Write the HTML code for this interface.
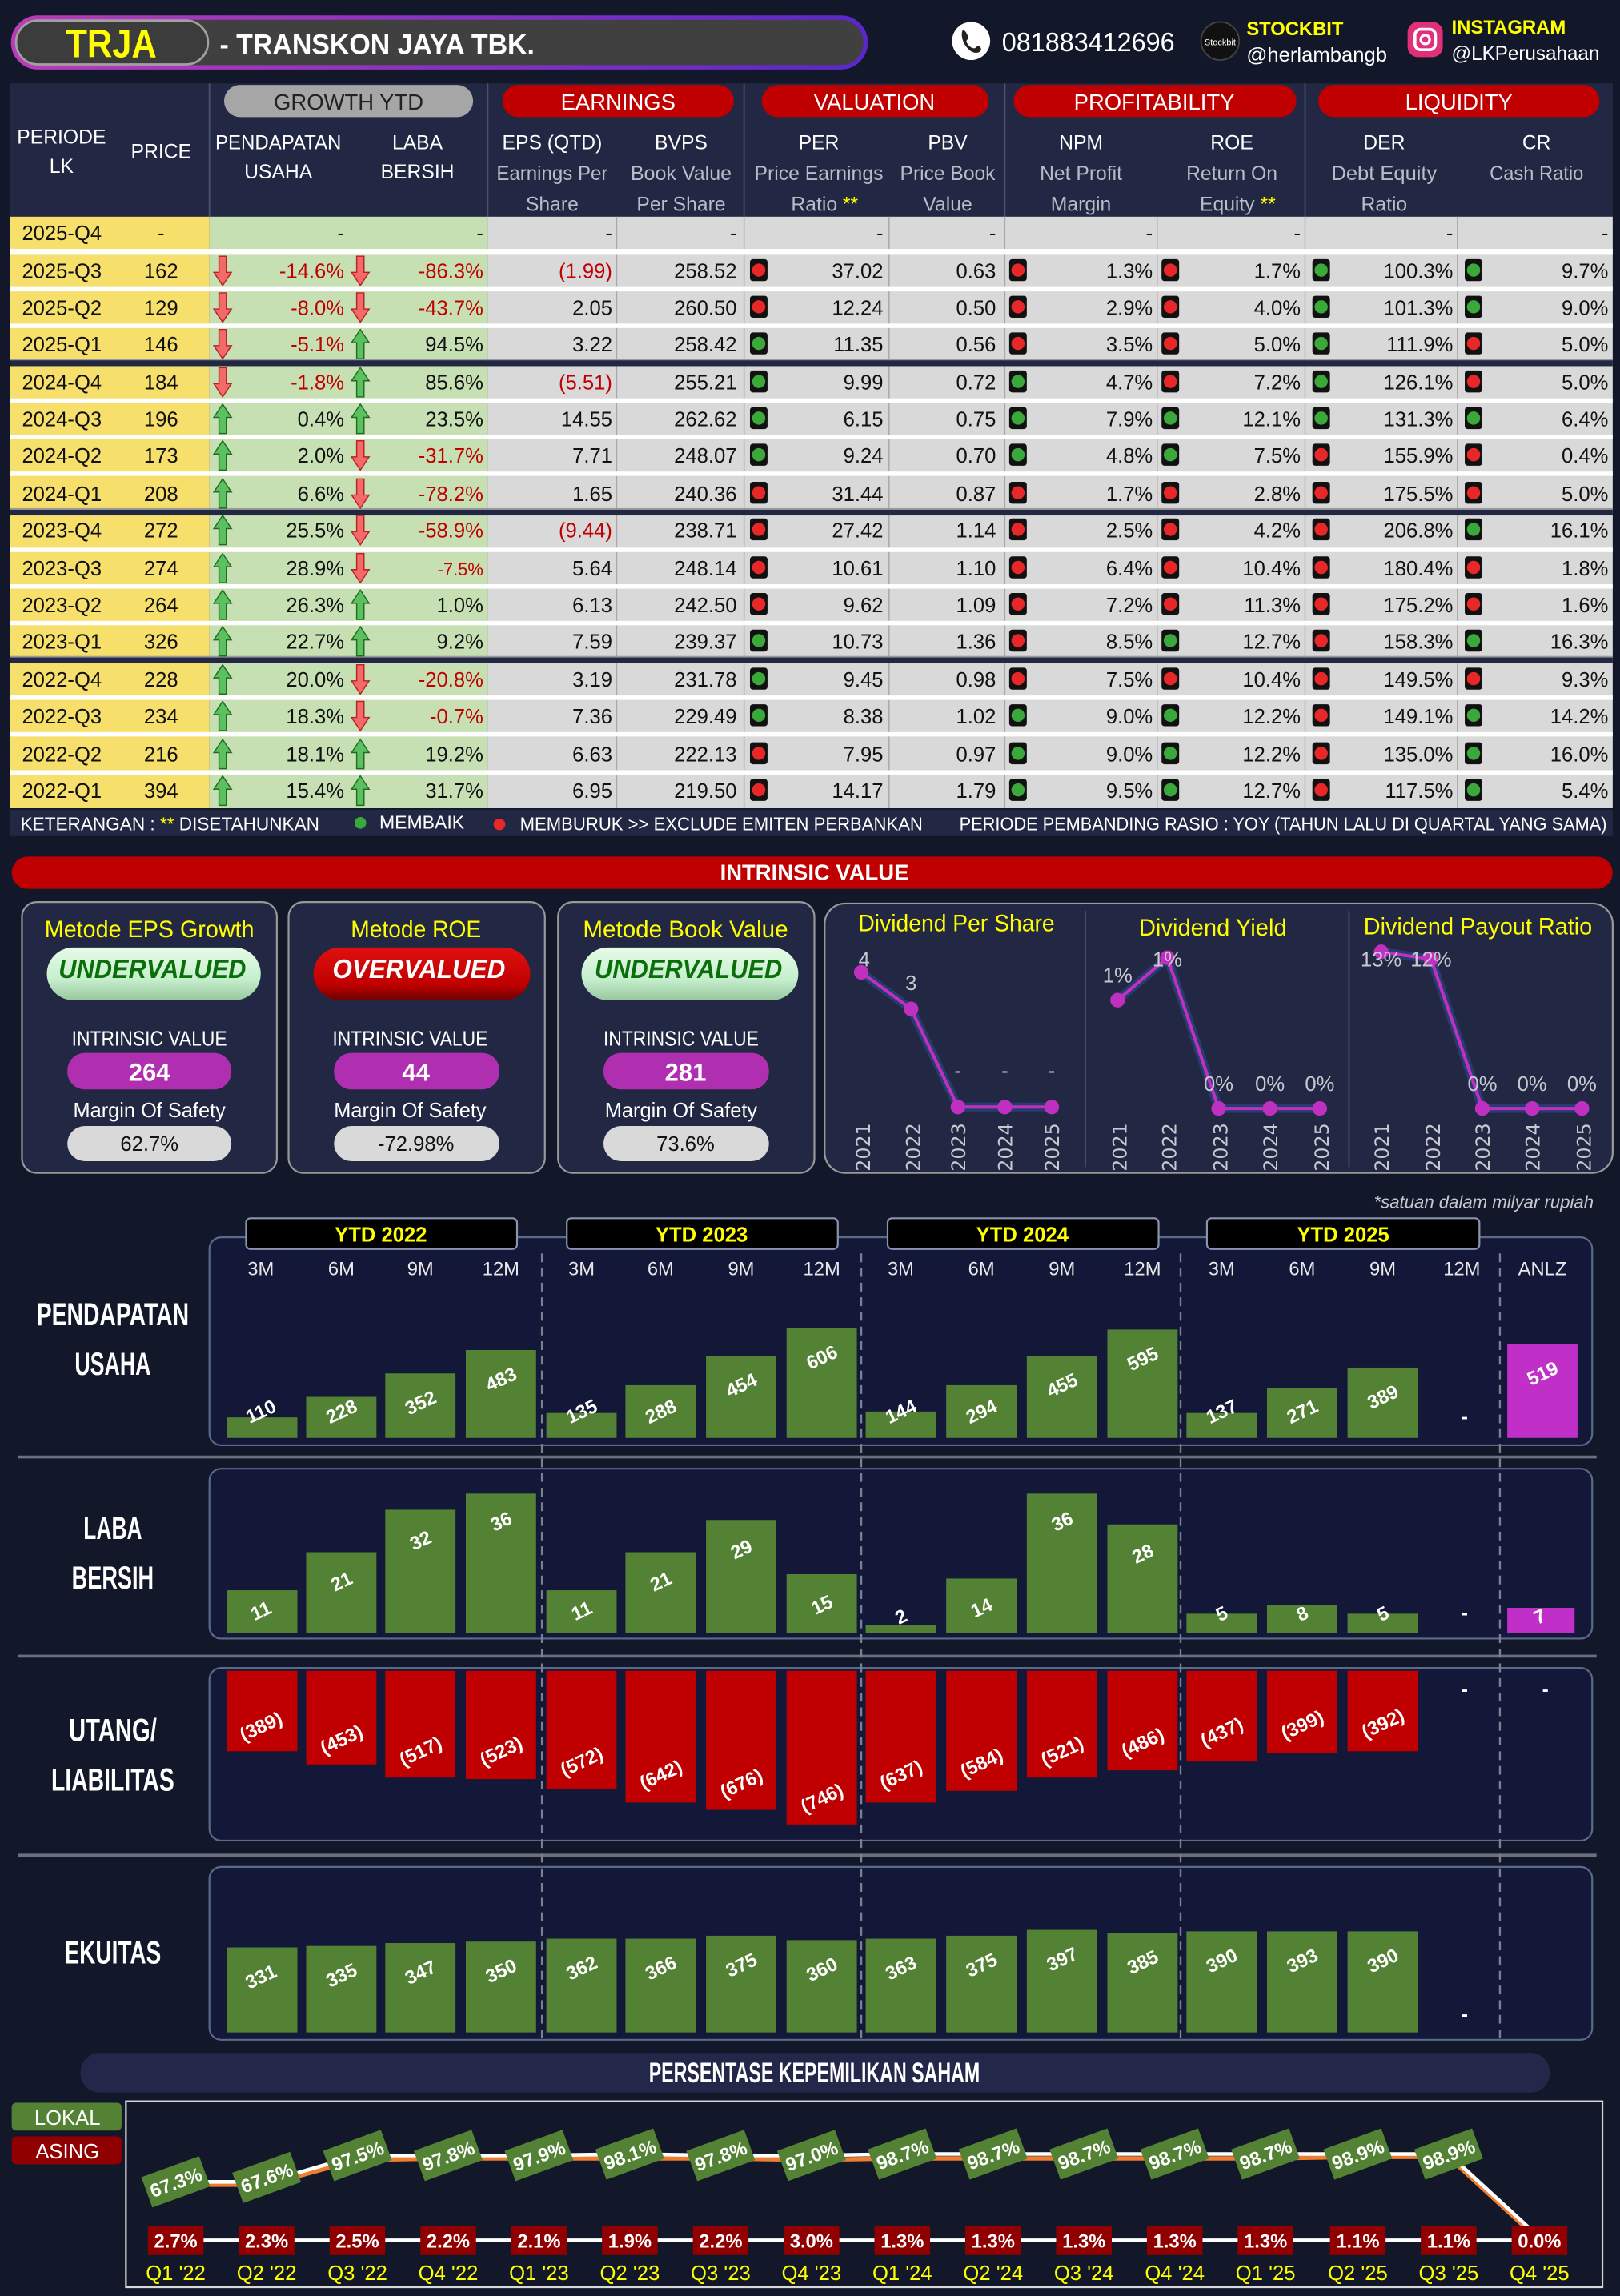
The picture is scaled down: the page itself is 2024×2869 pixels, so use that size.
<!DOCTYPE html>
<html><head><meta charset="utf-8"><style>
html,body{margin:0;padding:0;background:#121829;}
svg{display:block;}
text{font-family:"Liberation Sans Narrow","Liberation Sans",sans-serif;}
.tb text{font-size:14px;fill:#111;}
.m{text-anchor:middle}.r{text-anchor:end}
.n{fill:#c00000 !important}
.h{fill:#fff;font-size:13.5px;text-anchor:middle}
.hs{fill:#b8bcc8;font-size:13.5px;text-anchor:middle}
.bl{fill:#fff;font-size:13px;text-anchor:middle;font-weight:bold}
.cl{fill:#e8e8e8;font-size:13px;text-anchor:middle}
.lb{fill:#fff;font-size:22px;font-weight:bold;text-anchor:middle}
</style></head><body>
<svg width="2024" height="2869" viewBox="0 0 1106 1568" preserveAspectRatio="none" xmlns="http://www.w3.org/2000/svg">
<defs>
<g id="dn"><path d="M3.5 0h5v11h3.5l-6 9-6-9h3.5z" fill="#f26a6a" stroke="#b22" stroke-width=".8"/></g>
<g id="up"><path d="M3.5 20h5v-11h3.5l-6-9-6 9h3.5z" fill="#5cc060" stroke="#1e6e1e" stroke-width=".8"/></g>
<g id="rd"><rect width="12" height="15" rx="2" fill="#111"/><circle cx="6" cy="7.5" r="4.5" fill="#e82828"/></g>
<g id="gd"><rect width="12" height="15" rx="2" fill="#111"/><circle cx="6" cy="7.5" r="4.5" fill="#3aa83a"/></g>
<linearGradient id="pg" x1="0" x2="1"><stop offset="0" stop-color="#b83cb8"/><stop offset="1" stop-color="#5a28c8"/></linearGradient>
<linearGradient id="ug" x1="0" y1="0" x2="0" y2="1"><stop offset="0" stop-color="#e6fbe6"/><stop offset=".6" stop-color="#c6efce"/><stop offset="1" stop-color="#98c89e"/></linearGradient>
<linearGradient id="og" x1="0" y1="0" x2="0" y2="1"><stop offset="0" stop-color="#e01010"/><stop offset=".7" stop-color="#c00000"/><stop offset="1" stop-color="#700000"/></linearGradient>
</defs>
<rect width="1106" height="1568" fill="#121829"/>

<!-- HEADER -->
<rect x="9" y="12" width="582" height="34" rx="17" fill="#404040" stroke="url(#pg)" stroke-width="3"/>
<rect x="11" y="14" width="131" height="30" rx="15" fill="#3c3c3c" stroke="#a0a0a0" stroke-width="1.5"/>
<text x="76" y="39" class="m" style="font-size:27px;font-weight:bold;fill:#ffff00" textLength="62" lengthAdjust="spacingAndGlyphs">TRJA</text>
<text x="150" y="37" style="font-size:19px;font-weight:bold;fill:#fff" textLength="215" lengthAdjust="spacingAndGlyphs">-  TRANSKON JAYA TBK.</text>
<circle cx="663" cy="28" r="13" fill="#fff"/><path d="M657 21c2-1 3 2 4 4s-2 2-1 4 3 4 5 4 2-3 4-1 0 4-2 4c-5 1-12-8-10-15z" fill="#222"/>
<text x="684" y="35" style="font-size:18px;fill:#fff" textLength="118" lengthAdjust="spacingAndGlyphs">081883412696</text>
<circle cx="833" cy="28" r="13" fill="#111" stroke="#444"/><text x="833" y="31" class="m" style="font-size:6px;fill:#fff">Stockbit</text>
<text x="851" y="24" style="font-size:13px;font-weight:bold;fill:#ffff00">STOCKBIT</text>
<text x="851" y="42" style="font-size:13.5px;fill:#fff" textLength="96" lengthAdjust="spacingAndGlyphs">@herlambangb</text>
<rect x="961" y="15" width="24" height="24" rx="7" fill="#e0307a"/><rect x="966" y="20" width="14" height="14" rx="4" fill="none" stroke="#fff" stroke-width="2"/><circle cx="973" cy="27" r="3" fill="none" stroke="#fff" stroke-width="1.8"/>
<text x="991" y="23" style="font-size:13px;font-weight:bold;fill:#ffff00" textLength="78" lengthAdjust="spacingAndGlyphs">INSTAGRAM</text>
<text x="991" y="41" style="font-size:13.5px;fill:#fff" textLength="101" lengthAdjust="spacingAndGlyphs">@LKPerusahaan</text>

<!-- TABLE HEADER -->
<rect x="7" y="57" width="1094" height="91" fill="#222843"/>
<rect x="153" y="58" width="170" height="22" rx="11" fill="#a6a6a6"/><text x="238" y="75" class="m" style="font-size:15px;fill:#222">GROWTH YTD</text>
<rect x="343" y="58" width="158" height="22" rx="11" fill="#c00000"/><text x="422" y="75" class="m" style="font-size:15px;fill:#fff">EARNINGS</text>
<rect x="520" y="58" width="155" height="22" rx="11" fill="#c00000"/><text x="597" y="75" class="m" style="font-size:15px;fill:#fff">VALUATION</text>
<rect x="692" y="58" width="193" height="22" rx="11" fill="#c00000"/><text x="788" y="75" class="m" style="font-size:15px;fill:#fff">PROFITABILITY</text>
<rect x="900" y="58" width="192" height="22" rx="11" fill="#c00000"/><text x="996" y="75" class="m" style="font-size:15px;fill:#fff">LIQUIDITY</text>
<g stroke="#4a5070" stroke-width="1"><line x1="143" y1="57" x2="143" y2="148"/><line x1="333" y1="57" x2="333" y2="148"/><line x1="508" y1="57" x2="508" y2="148"/><line x1="686" y1="57" x2="686" y2="148"/><line x1="891" y1="57" x2="891" y2="148"/></g>
<text x="42" y="98" class="h">PERIODE</text><text x="42" y="118" class="h">LK</text>
<text x="110" y="108" class="h">PRICE</text>
<text x="190" y="102" class="h" textLength="86" lengthAdjust="spacingAndGlyphs">PENDAPATAN</text><text x="190" y="122" class="h">USAHA</text>
<text x="285" y="102" class="h">LABA</text><text x="285" y="122" class="h">BERSIH</text>
<text x="377" y="102" class="h">EPS (QTD)</text><text x="377" y="123" class="hs" textLength="76" lengthAdjust="spacingAndGlyphs">Earnings Per</text><text x="377" y="144" class="hs">Share</text>
<text x="465" y="102" class="h">BVPS</text><text x="465" y="123" class="hs" textLength="69" lengthAdjust="spacingAndGlyphs">Book Value</text><text x="465" y="144" class="hs">Per Share</text>
<text x="559" y="102" class="h">PER</text><text x="559" y="123" class="hs" textLength="88" lengthAdjust="spacingAndGlyphs">Price Earnings</text><text x="563" y="144" class="hs">Ratio <tspan style="fill:#ffff00">**</tspan></text>
<text x="647" y="102" class="h">PBV</text><text x="647" y="123" class="hs" textLength="65" lengthAdjust="spacingAndGlyphs">Price Book</text><text x="647" y="144" class="hs">Value</text>
<text x="738" y="102" class="h">NPM</text><text x="738" y="123" class="hs">Net Profit</text><text x="738" y="144" class="hs">Margin</text>
<text x="841" y="102" class="h">ROE</text><text x="841" y="123" class="hs">Return On</text><text x="845" y="144" class="hs">Equity <tspan style="fill:#ffff00">**</tspan></text>
<text x="945" y="102" class="h">DER</text><text x="945" y="123" class="hs" textLength="72" lengthAdjust="spacingAndGlyphs">Debt Equity</text><text x="945" y="144" class="hs">Ratio</text>
<text x="1049" y="102" class="h">CR</text><text x="1049" y="123" class="hs" textLength="64" lengthAdjust="spacingAndGlyphs">Cash Ratio</text>

<!-- TABLE BODY -->
<rect x="7" y="148" width="136" height="404" fill="#f7df6b"/>
<rect x="143" y="148" width="190" height="404" fill="#c6e0b4"/>
<rect x="333" y="148" width="768" height="404" fill="#d9d9d9"/>
<g stroke="#a8a8a8" stroke-width=".8"><line x1="421" y1="148" x2="421" y2="552"/><line x1="508" y1="148" x2="508" y2="552"/><line x1="607" y1="148" x2="607" y2="552"/><line x1="686" y1="148" x2="686" y2="552"/><line x1="790" y1="148" x2="790" y2="552"/><line x1="891" y1="148" x2="891" y2="552"/><line x1="995" y1="148" x2="995" y2="552"/></g>
<g fill="#fff"><rect x="7" y="170" width="1094" height="4"/><rect x="7" y="196" width="1094" height="3"/><rect x="7" y="221" width="1094" height="3"/><rect x="7" y="272" width="1094" height="3"/><rect x="7" y="297" width="1094" height="3"/><rect x="7" y="322" width="1094" height="3"/><rect x="7" y="374" width="1094" height="3"/><rect x="7" y="399" width="1094" height="3"/><rect x="7" y="424" width="1094" height="3"/><rect x="7" y="475" width="1094" height="3"/><rect x="7" y="500" width="1094" height="3"/><rect x="7" y="526" width="1094" height="3"/></g>
<g fill="#222843"><rect x="7" y="246" width="1094" height="4"/><rect x="7" y="348" width="1094" height="4"/><rect x="7" y="449" width="1094" height="4"/></g>
<g fill="#9a9a9a"><rect x="7" y="245" width="1094" height="1"/><rect x="7" y="347" width="1094" height="1"/><rect x="7" y="448" width="1094" height="1"/></g>

<g class="tb">
<g transform="translate(0,159)"><text x="15" y="5">2025-Q4</text><text class="m" x="110" y="5">-</text><text class="r" x="235" y="5">-</text><text class="r" x="330" y="5">-</text><text class="r" x="418" y="5">-</text><text class="r" x="503" y="5">-</text><text class="r" x="603" y="5">-</text><text class="r" x="680" y="5">-</text><text class="r" x="787" y="5">-</text><text class="r" x="888" y="5">-</text><text class="r" x="992" y="5">-</text><text class="r" x="1098" y="5">-</text></g>

<g transform="translate(0,185)"><text x="15" y="5">2025-Q3</text><text class="m" x="110" y="5">162</text><use href="#dn" x="146" y="-10"/><text class="r n" x="235" y="5">-14.6%</text><use href="#dn" x="240" y="-10"/><text class="r n" x="330" y="5">-86.3%</text><text class="r n" x="418" y="5">(1.99)</text><text class="r" x="503" y="5">258.52</text><use href="#rd" x="512" y="-8"/><text class="r" x="603" y="5">37.02</text><text class="r" x="680" y="5">0.63</text><use href="#rd" x="689" y="-8"/><text class="r" x="787" y="5">1.3%</text><use href="#rd" x="793" y="-8"/><text class="r" x="888" y="5">1.7%</text><use href="#gd" x="896" y="-8"/><text class="r" x="992" y="5">100.3%</text><use href="#gd" x="1000" y="-8"/><text class="r" x="1098" y="5">9.7%</text></g>

<g transform="translate(0,210)"><text x="15" y="5">2025-Q2</text><text class="m" x="110" y="5">129</text><use href="#dn" x="146" y="-10"/><text class="r n" x="235" y="5">-8.0%</text><use href="#dn" x="240" y="-10"/><text class="r n" x="330" y="5">-43.7%</text><text class="r" x="418" y="5">2.05</text><text class="r" x="503" y="5">260.50</text><use href="#rd" x="512" y="-8"/><text class="r" x="603" y="5">12.24</text><text class="r" x="680" y="5">0.50</text><use href="#rd" x="689" y="-8"/><text class="r" x="787" y="5">2.9%</text><use href="#rd" x="793" y="-8"/><text class="r" x="888" y="5">4.0%</text><use href="#gd" x="896" y="-8"/><text class="r" x="992" y="5">101.3%</text><use href="#gd" x="1000" y="-8"/><text class="r" x="1098" y="5">9.0%</text></g>

<g transform="translate(0,235)"><text x="15" y="5">2025-Q1</text><text class="m" x="110" y="5">146</text><use href="#dn" x="146" y="-10"/><text class="r n" x="235" y="5">-5.1%</text><use href="#up" x="240" y="-10"/><text class="r" x="330" y="5">94.5%</text><text class="r" x="418" y="5">3.22</text><text class="r" x="503" y="5">258.42</text><use href="#gd" x="512" y="-8"/><text class="r" x="603" y="5">11.35</text><text class="r" x="680" y="5">0.56</text><use href="#rd" x="689" y="-8"/><text class="r" x="787" y="5">3.5%</text><use href="#rd" x="793" y="-8"/><text class="r" x="888" y="5">5.0%</text><use href="#gd" x="896" y="-8"/><text class="r" x="992" y="5">111.9%</text><use href="#rd" x="1000" y="-8"/><text class="r" x="1098" y="5">5.0%</text></g>

<g transform="translate(0,261)"><text x="15" y="5">2024-Q4</text><text class="m" x="110" y="5">184</text><use href="#dn" x="146" y="-10"/><text class="r n" x="235" y="5">-1.8%</text><use href="#up" x="240" y="-10"/><text class="r" x="330" y="5">85.6%</text><text class="r n" x="418" y="5">(5.51)</text><text class="r" x="503" y="5">255.21</text><use href="#gd" x="512" y="-8"/><text class="r" x="603" y="5">9.99</text><text class="r" x="680" y="5">0.72</text><use href="#gd" x="689" y="-8"/><text class="r" x="787" y="5">4.7%</text><use href="#rd" x="793" y="-8"/><text class="r" x="888" y="5">7.2%</text><use href="#gd" x="896" y="-8"/><text class="r" x="992" y="5">126.1%</text><use href="#rd" x="1000" y="-8"/><text class="r" x="1098" y="5">5.0%</text></g>

<g transform="translate(0,286)"><text x="15" y="5">2024-Q3</text><text class="m" x="110" y="5">196</text><use href="#up" x="146" y="-10"/><text class="r" x="235" y="5">0.4%</text><use href="#up" x="240" y="-10"/><text class="r" x="330" y="5">23.5%</text><text class="r" x="418" y="5">14.55</text><text class="r" x="503" y="5">262.62</text><use href="#gd" x="512" y="-8"/><text class="r" x="603" y="5">6.15</text><text class="r" x="680" y="5">0.75</text><use href="#gd" x="689" y="-8"/><text class="r" x="787" y="5">7.9%</text><use href="#gd" x="793" y="-8"/><text class="r" x="888" y="5">12.1%</text><use href="#gd" x="896" y="-8"/><text class="r" x="992" y="5">131.3%</text><use href="#gd" x="1000" y="-8"/><text class="r" x="1098" y="5">6.4%</text></g>

<g transform="translate(0,311)"><text x="15" y="5">2024-Q2</text><text class="m" x="110" y="5">173</text><use href="#up" x="146" y="-10"/><text class="r" x="235" y="5">2.0%</text><use href="#dn" x="240" y="-10"/><text class="r n" x="330" y="5">-31.7%</text><text class="r" x="418" y="5">7.71</text><text class="r" x="503" y="5">248.07</text><use href="#gd" x="512" y="-8"/><text class="r" x="603" y="5">9.24</text><text class="r" x="680" y="5">0.70</text><use href="#gd" x="689" y="-8"/><text class="r" x="787" y="5">4.8%</text><use href="#gd" x="793" y="-8"/><text class="r" x="888" y="5">7.5%</text><use href="#rd" x="896" y="-8"/><text class="r" x="992" y="5">155.9%</text><use href="#rd" x="1000" y="-8"/><text class="r" x="1098" y="5">0.4%</text></g>

<g transform="translate(0,337)"><text x="15" y="5">2024-Q1</text><text class="m" x="110" y="5">208</text><use href="#up" x="146" y="-10"/><text class="r" x="235" y="5">6.6%</text><use href="#dn" x="240" y="-10"/><text class="r n" x="330" y="5">-78.2%</text><text class="r" x="418" y="5">1.65</text><text class="r" x="503" y="5">240.36</text><use href="#rd" x="512" y="-8"/><text class="r" x="603" y="5">31.44</text><text class="r" x="680" y="5">0.87</text><use href="#rd" x="689" y="-8"/><text class="r" x="787" y="5">1.7%</text><use href="#rd" x="793" y="-8"/><text class="r" x="888" y="5">2.8%</text><use href="#rd" x="896" y="-8"/><text class="r" x="992" y="5">175.5%</text><use href="#rd" x="1000" y="-8"/><text class="r" x="1098" y="5">5.0%</text></g>

<g transform="translate(0,362)"><text x="15" y="5">2023-Q4</text><text class="m" x="110" y="5">272</text><use href="#up" x="146" y="-10"/><text class="r" x="235" y="5">25.5%</text><use href="#dn" x="240" y="-10"/><text class="r n" x="330" y="5">-58.9%</text><text class="r n" x="418" y="5">(9.44)</text><text class="r" x="503" y="5">238.71</text><use href="#rd" x="512" y="-8"/><text class="r" x="603" y="5">27.42</text><text class="r" x="680" y="5">1.14</text><use href="#rd" x="689" y="-8"/><text class="r" x="787" y="5">2.5%</text><use href="#rd" x="793" y="-8"/><text class="r" x="888" y="5">4.2%</text><use href="#rd" x="896" y="-8"/><text class="r" x="992" y="5">206.8%</text><use href="#gd" x="1000" y="-8"/><text class="r" x="1098" y="5">16.1%</text></g>

<g transform="translate(0,388)"><text x="15" y="5">2023-Q3</text><text class="m" x="110" y="5">274</text><use href="#up" x="146" y="-10"/><text class="r" x="235" y="5">28.9%</text><use href="#dn" x="240" y="-10"/><text class="r n" x="330" y="5" style="font-size:12px">-7.5%</text><text class="r" x="418" y="5">5.64</text><text class="r" x="503" y="5">248.14</text><use href="#rd" x="512" y="-8"/><text class="r" x="603" y="5">10.61</text><text class="r" x="680" y="5">1.10</text><use href="#rd" x="689" y="-8"/><text class="r" x="787" y="5">6.4%</text><use href="#rd" x="793" y="-8"/><text class="r" x="888" y="5">10.4%</text><use href="#rd" x="896" y="-8"/><text class="r" x="992" y="5">180.4%</text><use href="#rd" x="1000" y="-8"/><text class="r" x="1098" y="5">1.8%</text></g>

<g transform="translate(0,413)"><text x="15" y="5">2023-Q2</text><text class="m" x="110" y="5">264</text><use href="#up" x="146" y="-10"/><text class="r" x="235" y="5">26.3%</text><use href="#up" x="240" y="-10"/><text class="r" x="330" y="5">1.0%</text><text class="r" x="418" y="5">6.13</text><text class="r" x="503" y="5">242.50</text><use href="#rd" x="512" y="-8"/><text class="r" x="603" y="5">9.62</text><text class="r" x="680" y="5">1.09</text><use href="#rd" x="689" y="-8"/><text class="r" x="787" y="5">7.2%</text><use href="#rd" x="793" y="-8"/><text class="r" x="888" y="5">11.3%</text><use href="#rd" x="896" y="-8"/><text class="r" x="992" y="5">175.2%</text><use href="#rd" x="1000" y="-8"/><text class="r" x="1098" y="5">1.6%</text></g>

<g transform="translate(0,438)"><text x="15" y="5">2023-Q1</text><text class="m" x="110" y="5">326</text><use href="#up" x="146" y="-10"/><text class="r" x="235" y="5">22.7%</text><use href="#up" x="240" y="-10"/><text class="r" x="330" y="5">9.2%</text><text class="r" x="418" y="5">7.59</text><text class="r" x="503" y="5">239.37</text><use href="#gd" x="512" y="-8"/><text class="r" x="603" y="5">10.73</text><text class="r" x="680" y="5">1.36</text><use href="#rd" x="689" y="-8"/><text class="r" x="787" y="5">8.5%</text><use href="#gd" x="793" y="-8"/><text class="r" x="888" y="5">12.7%</text><use href="#rd" x="896" y="-8"/><text class="r" x="992" y="5">158.3%</text><use href="#gd" x="1000" y="-8"/><text class="r" x="1098" y="5">16.3%</text></g>

<g transform="translate(0,464)"><text x="15" y="5">2022-Q4</text><text class="m" x="110" y="5">228</text><use href="#up" x="146" y="-10"/><text class="r" x="235" y="5">20.0%</text><use href="#dn" x="240" y="-10"/><text class="r n" x="330" y="5">-20.8%</text><text class="r" x="418" y="5">3.19</text><text class="r" x="503" y="5">231.78</text><use href="#gd" x="512" y="-8"/><text class="r" x="603" y="5">9.45</text><text class="r" x="680" y="5">0.98</text><use href="#rd" x="689" y="-8"/><text class="r" x="787" y="5">7.5%</text><use href="#rd" x="793" y="-8"/><text class="r" x="888" y="5">10.4%</text><use href="#rd" x="896" y="-8"/><text class="r" x="992" y="5">149.5%</text><use href="#rd" x="1000" y="-8"/><text class="r" x="1098" y="5">9.3%</text></g>

<g transform="translate(0,489)"><text x="15" y="5">2022-Q3</text><text class="m" x="110" y="5">234</text><use href="#up" x="146" y="-10"/><text class="r" x="235" y="5">18.3%</text><use href="#dn" x="240" y="-10"/><text class="r n" x="330" y="5">-0.7%</text><text class="r" x="418" y="5">7.36</text><text class="r" x="503" y="5">229.49</text><use href="#gd" x="512" y="-8"/><text class="r" x="603" y="5">8.38</text><text class="r" x="680" y="5">1.02</text><use href="#gd" x="689" y="-8"/><text class="r" x="787" y="5">9.0%</text><use href="#gd" x="793" y="-8"/><text class="r" x="888" y="5">12.2%</text><use href="#rd" x="896" y="-8"/><text class="r" x="992" y="5">149.1%</text><use href="#gd" x="1000" y="-8"/><text class="r" x="1098" y="5">14.2%</text></g>

<g transform="translate(0,515)"><text x="15" y="5">2022-Q2</text><text class="m" x="110" y="5">216</text><use href="#up" x="146" y="-10"/><text class="r" x="235" y="5">18.1%</text><use href="#up" x="240" y="-10"/><text class="r" x="330" y="5">19.2%</text><text class="r" x="418" y="5">6.63</text><text class="r" x="503" y="5">222.13</text><use href="#rd" x="512" y="-8"/><text class="r" x="603" y="5">7.95</text><text class="r" x="680" y="5">0.97</text><use href="#gd" x="689" y="-8"/><text class="r" x="787" y="5">9.0%</text><use href="#gd" x="793" y="-8"/><text class="r" x="888" y="5">12.2%</text><use href="#rd" x="896" y="-8"/><text class="r" x="992" y="5">135.0%</text><use href="#gd" x="1000" y="-8"/><text class="r" x="1098" y="5">16.0%</text></g>

<g transform="translate(0,540)"><text x="15" y="5">2022-Q1</text><text class="m" x="110" y="5">394</text><use href="#up" x="146" y="-10"/><text class="r" x="235" y="5">15.4%</text><use href="#up" x="240" y="-10"/><text class="r" x="330" y="5">31.7%</text><text class="r" x="418" y="5">6.95</text><text class="r" x="503" y="5">219.50</text><use href="#rd" x="512" y="-8"/><text class="r" x="603" y="5">14.17</text><text class="r" x="680" y="5">1.79</text><use href="#gd" x="689" y="-8"/><text class="r" x="787" y="5">9.5%</text><use href="#gd" x="793" y="-8"/><text class="r" x="888" y="5">12.7%</text><use href="#rd" x="896" y="-8"/><text class="r" x="992" y="5">117.5%</text><use href="#gd" x="1000" y="-8"/><text class="r" x="1098" y="5">5.4%</text></g>
</g>

<!-- legend -->
<rect x="7" y="553" width="1094" height="18" fill="#222843"/>
<text x="14" y="567" style="fill:#fff;font-size:12.5px" textLength="204" lengthAdjust="spacingAndGlyphs">KETERANGAN :  <tspan style="fill:#ffff00">**</tspan> DISETAHUNKAN</text>
<circle cx="246" cy="562" r="4" fill="#3aa83a"/><text x="259" y="566" style="fill:#fff;font-size:12.5px" textLength="58" lengthAdjust="spacingAndGlyphs">MEMBAIK</text>
<circle cx="341" cy="563" r="4" fill="#e82828"/><text x="355" y="567" style="fill:#fff;font-size:12.5px" textLength="275" lengthAdjust="spacingAndGlyphs">MEMBURUK   &gt;&gt; EXCLUDE EMITEN PERBANKAN</text>
<text x="655" y="567" style="fill:#fff;font-size:12.5px" textLength="442" lengthAdjust="spacingAndGlyphs">PERIODE PEMBANDING RASIO : YOY (TAHUN LALU DI QUARTAL YANG SAMA)</text>

<!-- INTRINSIC -->
<rect x="8" y="585" width="1093" height="22" rx="11" fill="#c00000"/>
<text x="556" y="601" class="m" style="font-size:15px;font-weight:bold;fill:#fff">INTRINSIC VALUE</text>

<g>
<rect x="15" y="616" width="174" height="185" rx="10" fill="#222843" stroke="#999" stroke-width="1.2"/>
<rect x="197" y="616" width="175" height="185" rx="10" fill="#222843" stroke="#999" stroke-width="1.2"/>
<rect x="381" y="616" width="175" height="185" rx="10" fill="#222843" stroke="#999" stroke-width="1.2"/>
<text x="102" y="640" class="m" style="font-size:16px;fill:#ffff00" textLength="143" lengthAdjust="spacingAndGlyphs">Metode EPS Growth</text>
<text x="284" y="640" class="m" style="font-size:16px;fill:#ffff00" textLength="89" lengthAdjust="spacingAndGlyphs">Metode ROE</text>
<text x="468" y="640" class="m" style="font-size:16px;fill:#ffff00" textLength="140" lengthAdjust="spacingAndGlyphs">Metode Book Value</text>
<rect x="32" y="647" width="146" height="36" rx="18" fill="url(#ug)"/>
<rect x="214" y="647" width="148" height="36" rx="18" fill="url(#og)"/>
<rect x="397" y="647" width="148" height="36" rx="18" fill="url(#ug)"/>
<text x="104" y="668" class="m" style="font-size:18px;font-weight:bold;font-style:italic;fill:#0a6e0a" textLength="128" lengthAdjust="spacingAndGlyphs">UNDERVALUED</text>
<text x="286" y="668" class="m" style="font-size:18px;font-weight:bold;font-style:italic;fill:#fff" textLength="118" lengthAdjust="spacingAndGlyphs">OVERVALUED</text>
<text x="470" y="668" class="m" style="font-size:18px;font-weight:bold;font-style:italic;fill:#0a6e0a" textLength="128" lengthAdjust="spacingAndGlyphs">UNDERVALUED</text>
<text x="102" y="714" class="m" style="font-size:14px;fill:#fff" textLength="106" lengthAdjust="spacingAndGlyphs">INTRINSIC VALUE</text>
<text x="280" y="714" class="m" style="font-size:14px;fill:#fff" textLength="106" lengthAdjust="spacingAndGlyphs">INTRINSIC VALUE</text>
<text x="465" y="714" class="m" style="font-size:14px;fill:#fff" textLength="106" lengthAdjust="spacingAndGlyphs">INTRINSIC VALUE</text>
<rect x="46" y="719" width="112" height="25" rx="12" fill="#b02fb0"/><rect x="228" y="719" width="113" height="25" rx="12" fill="#b02fb0"/><rect x="412" y="719" width="113" height="25" rx="12" fill="#b02fb0"/>
<text x="102" y="738" class="m" style="font-size:17px;font-weight:bold;fill:#fff">264</text>
<text x="284" y="738" class="m" style="font-size:17px;font-weight:bold;fill:#fff">44</text>
<text x="468" y="738" class="m" style="font-size:17px;font-weight:bold;fill:#fff">281</text>
<text x="102" y="763" class="m" style="font-size:14px;fill:#fff" textLength="104" lengthAdjust="spacingAndGlyphs">Margin Of Safety</text>
<text x="280" y="763" class="m" style="font-size:14px;fill:#fff" textLength="104" lengthAdjust="spacingAndGlyphs">Margin Of Safety</text>
<text x="465" y="763" class="m" style="font-size:14px;fill:#fff" textLength="104" lengthAdjust="spacingAndGlyphs">Margin Of Safety</text>
<rect x="46" y="769" width="112" height="24" rx="12" fill="#d9d9d9"/><rect x="228" y="769" width="113" height="24" rx="12" fill="#d9d9d9"/><rect x="412" y="769" width="113" height="24" rx="12" fill="#d9d9d9"/>
<text x="102" y="786" class="m" style="font-size:14px;fill:#111">62.7%</text>
<text x="284" y="786" class="m" style="font-size:14px;fill:#111">-72.98%</text>
<text x="468" y="786" class="m" style="font-size:14px;fill:#111">73.6%</text>
</g>

<!-- DIVIDEND -->
<rect x="563" y="617" width="538" height="184" rx="14" fill="#222843" stroke="#999" stroke-width="1.2"/>
<line x1="741" y1="622" x2="741" y2="797" stroke="#4a5070"/><line x1="921" y1="622" x2="921" y2="797" stroke="#4a5070"/>
<text x="653" y="636" class="m" style="font-size:16px;fill:#ffff00" textLength="134" lengthAdjust="spacingAndGlyphs">Dividend Per Share</text>
<text x="828" y="639" class="m" style="font-size:16px;fill:#ffff00" textLength="101" lengthAdjust="spacingAndGlyphs">Dividend Yield</text>
<text x="1009" y="638" class="m" style="font-size:16px;fill:#ffff00" textLength="156" lengthAdjust="spacingAndGlyphs">Dividend Payout Ratio</text>
<g fill="none" stroke="#3060c0" stroke-width="6" opacity=".35"><polyline points="588,664 622,689 654,756 686,756 718,756"/><polyline points="763,683 797,654 832,757 867,757 901,757"/><polyline points="943,650 977,655 1012,757 1046,757 1080,757"/></g>
<g fill="none" stroke="#c030c0" stroke-width="2.2"><polyline points="588,664 622,689 654,756 686,756 718,756"/><polyline points="763,683 797,654 832,757 867,757 901,757"/><polyline points="943,650 977,655 1012,757 1046,757 1080,757"/></g>
<g fill="#c030c0"><circle cx="588" cy="664" r="5"/><circle cx="622" cy="689" r="5"/><circle cx="654" cy="756" r="5"/><circle cx="686" cy="756" r="5"/><circle cx="718" cy="756" r="5"/><circle cx="763" cy="683" r="5"/><circle cx="797" cy="654" r="5"/><circle cx="832" cy="757" r="5"/><circle cx="867" cy="757" r="5"/><circle cx="901" cy="757" r="5"/><circle cx="943" cy="650" r="5"/><circle cx="977" cy="655" r="5"/><circle cx="1012" cy="757" r="5"/><circle cx="1046" cy="757" r="5"/><circle cx="1080" cy="757" r="5"/></g>
<g>
<text x="590" y="660" class="m" style="fill:#c8c8d0;font-size:14px">4</text><text x="622" y="676" class="m" style="fill:#c8c8d0;font-size:14px">3</text>
<text x="654" y="736" class="m" style="fill:#c8c8d0;font-size:14px">-</text><text x="686" y="736" class="m" style="fill:#c8c8d0;font-size:14px">-</text><text x="718" y="736" class="m" style="fill:#c8c8d0;font-size:14px">-</text>
<text x="763" y="671" class="m" style="fill:#c8c8d0;font-size:14px">1%</text><text x="797" y="660" class="m" style="fill:#c8c8d0;font-size:14px">1%</text>
<text x="832" y="745" class="m" style="fill:#c8c8d0;font-size:14px">0%</text><text x="867" y="745" class="m" style="fill:#c8c8d0;font-size:14px">0%</text><text x="901" y="745" class="m" style="fill:#c8c8d0;font-size:14px">0%</text>
<text x="943" y="660" class="m" style="fill:#c8c8d0;font-size:14px">13%</text><text x="977" y="660" class="m" style="fill:#c8c8d0;font-size:14px">12%</text>
<text x="1012" y="745" class="m" style="fill:#c8c8d0;font-size:14px">0%</text><text x="1046" y="745" class="m" style="fill:#c8c8d0;font-size:14px">0%</text><text x="1080" y="745" class="m" style="fill:#c8c8d0;font-size:14px">0%</text>
</g>
<g>
<text transform="translate(594,800) rotate(-90)" style="fill:#c8c8d0;font-family:'DejaVu Sans',sans-serif;font-size:13px">2021</text>
<text transform="translate(628,800) rotate(-90)" style="fill:#c8c8d0;font-family:'DejaVu Sans',sans-serif;font-size:13px">2022</text>
<text transform="translate(659,800) rotate(-90)" style="fill:#c8c8d0;font-family:'DejaVu Sans',sans-serif;font-size:13px">2023</text>
<text transform="translate(691,800) rotate(-90)" style="fill:#c8c8d0;font-family:'DejaVu Sans',sans-serif;font-size:13px">2024</text>
<text transform="translate(723,800) rotate(-90)" style="fill:#c8c8d0;font-family:'DejaVu Sans',sans-serif;font-size:13px">2025</text>
<text transform="translate(769,800) rotate(-90)" style="fill:#c8c8d0;font-family:'DejaVu Sans',sans-serif;font-size:13px">2021</text>
<text transform="translate(803,800) rotate(-90)" style="fill:#c8c8d0;font-family:'DejaVu Sans',sans-serif;font-size:13px">2022</text>
<text transform="translate(838,800) rotate(-90)" style="fill:#c8c8d0;font-family:'DejaVu Sans',sans-serif;font-size:13px">2023</text>
<text transform="translate(872,800) rotate(-90)" style="fill:#c8c8d0;font-family:'DejaVu Sans',sans-serif;font-size:13px">2024</text>
<text transform="translate(907,800) rotate(-90)" style="fill:#c8c8d0;font-family:'DejaVu Sans',sans-serif;font-size:13px">2025</text>
<text transform="translate(948,800) rotate(-90)" style="fill:#c8c8d0;font-family:'DejaVu Sans',sans-serif;font-size:13px">2021</text>
<text transform="translate(983,800) rotate(-90)" style="fill:#c8c8d0;font-family:'DejaVu Sans',sans-serif;font-size:13px">2022</text>
<text transform="translate(1017,800) rotate(-90)" style="fill:#c8c8d0;font-family:'DejaVu Sans',sans-serif;font-size:13px">2023</text>
<text transform="translate(1051,800) rotate(-90)" style="fill:#c8c8d0;font-family:'DejaVu Sans',sans-serif;font-size:13px">2024</text>
<text transform="translate(1086,800) rotate(-90)" style="fill:#c8c8d0;font-family:'DejaVu Sans',sans-serif;font-size:13px">2025</text>
</g>

<text x="1088" y="825" class="r" style="font-size:12px;font-style:italic;fill:#c8c8d0" textLength="150" lengthAdjust="spacingAndGlyphs">*satuan dalam milyar rupiah</text>

<!-- BAR PANELS -->
<g fill="#131738" stroke="#5a6a8a" stroke-width="1.2">
<rect x="143" y="845" width="944" height="142" rx="8"/>
<rect x="143" y="1003" width="944" height="116" rx="8"/>
<rect x="143" y="1139" width="944" height="118" rx="8"/>
<rect x="143" y="1275" width="944" height="118" rx="8"/>
</g>
<g stroke="#6a7080" stroke-width="2"><line x1="12" y1="995" x2="1090" y2="995"/><line x1="12" y1="1131" x2="1090" y2="1131"/><line x1="12" y1="1267" x2="1090" y2="1267"/></g>
<g stroke="#7a8090" stroke-width="1.3" stroke-dasharray="6,4"><line x1="370" y1="856" x2="370" y2="1392"/><line x1="588" y1="856" x2="588" y2="1392"/><line x1="806" y1="856" x2="806" y2="1392"/><line x1="1024" y1="856" x2="1024" y2="1392"/></g>
<g fill="#000" stroke="#8a94b0" stroke-width="1.2">
<rect x="168" y="832" width="185" height="21" rx="3"/><rect x="387" y="832" width="185" height="21" rx="3"/><rect x="606" y="832" width="185" height="21" rx="3"/><rect x="824" y="832" width="186" height="21" rx="3"/></g>
<g><text x="260" y="848" class="m" style="fill:#ffff00;font-size:14px;font-weight:bold">YTD 2022</text><text x="479" y="848" class="m" style="fill:#ffff00;font-size:14px;font-weight:bold">YTD 2023</text><text x="698" y="848" class="m" style="fill:#ffff00;font-size:14px;font-weight:bold">YTD 2024</text><text x="917" y="848" class="m" style="fill:#ffff00;font-size:14px;font-weight:bold">YTD 2025</text></g>
<g><text x="178" y="871" class="cl">3M</text><text x="233" y="871" class="cl">6M</text><text x="287" y="871" class="cl">9M</text><text x="342" y="871" class="cl">12M</text><text x="397" y="871" class="cl">3M</text><text x="451" y="871" class="cl">6M</text><text x="506" y="871" class="cl">9M</text><text x="561" y="871" class="cl">12M</text><text x="615" y="871" class="cl">3M</text><text x="670" y="871" class="cl">6M</text><text x="725" y="871" class="cl">9M</text><text x="780" y="871" class="cl">12M</text><text x="834" y="871" class="cl">3M</text><text x="889" y="871" class="cl">6M</text><text x="944" y="871" class="cl">9M</text><text x="998" y="871" class="cl">12M</text><text x="1053" y="871" class="cl">ANLZ</text></g>

<text x="77" y="905" class="lb" textLength="104" lengthAdjust="spacingAndGlyphs">PENDAPATAN</text><text x="77" y="939" class="lb" textLength="52" lengthAdjust="spacingAndGlyphs">USAHA</text>
<text x="77" y="1051" class="lb" textLength="40" lengthAdjust="spacingAndGlyphs">LABA</text><text x="77" y="1085" class="lb" textLength="56" lengthAdjust="spacingAndGlyphs">BERSIH</text>
<text x="77" y="1189" class="lb" textLength="60" lengthAdjust="spacingAndGlyphs">UTANG/</text><text x="77" y="1223" class="lb" textLength="84" lengthAdjust="spacingAndGlyphs">LIABILITAS</text>
<text x="77" y="1341" class="lb" textLength="66" lengthAdjust="spacingAndGlyphs">EKUITAS</text>

<!-- Pendapatan bars -->
<g fill="#548235">
<rect x="155" y="968" width="48" height="14"/><rect x="209" y="954" width="48" height="28"/><rect x="263" y="938" width="48" height="44"/><rect x="318" y="922" width="48" height="60"/>
<rect x="373" y="965" width="48" height="17"/><rect x="427" y="946" width="48" height="36"/><rect x="482" y="926" width="48" height="56"/><rect x="537" y="907" width="48" height="75"/>
<rect x="591" y="964" width="48" height="18"/><rect x="646" y="946" width="48" height="36"/><rect x="701" y="926" width="48" height="56"/><rect x="756" y="908" width="48" height="74"/>
<rect x="810" y="965" width="48" height="17"/><rect x="865" y="948" width="48" height="34"/><rect x="920" y="934" width="48" height="48"/>
</g>
<rect x="1029" y="918" width="48" height="64" fill="#c030c8"/>
<g>
<text transform="translate(180,968) rotate(-25)" class="bl">110</text><text transform="translate(235,968) rotate(-25)" class="bl">228</text><text transform="translate(289,962) rotate(-25)" class="bl">352</text><text transform="translate(344,946) rotate(-25)" class="bl">483</text>
<text transform="translate(399,968) rotate(-25)" class="bl">135</text><text transform="translate(453,968) rotate(-25)" class="bl">288</text><text transform="translate(508,950) rotate(-25)" class="bl">454</text><text transform="translate(563,931) rotate(-25)" class="bl">606</text>
<text transform="translate(617,968) rotate(-25)" class="bl">144</text><text transform="translate(672,968) rotate(-25)" class="bl">294</text><text transform="translate(727,950) rotate(-25)" class="bl">455</text><text transform="translate(782,932) rotate(-25)" class="bl">595</text>
<text transform="translate(836,968) rotate(-25)" class="bl">137</text><text transform="translate(891,968) rotate(-25)" class="bl">271</text><text transform="translate(946,958) rotate(-25)" class="bl">389</text><text x="1000" y="972" class="bl">-</text>
<text transform="translate(1055,942) rotate(-25)" class="bl">519</text>
</g>

<!-- Laba bars -->
<g fill="#548235">
<rect x="155" y="1086" width="48" height="29"/><rect x="209" y="1060" width="48" height="55"/><rect x="263" y="1031" width="48" height="84"/><rect x="318" y="1020" width="48" height="95"/>
<rect x="373" y="1086" width="48" height="29"/><rect x="427" y="1060" width="48" height="55"/><rect x="482" y="1038" width="48" height="77"/><rect x="537" y="1075" width="48" height="40"/>
<rect x="591" y="1110" width="48" height="5"/><rect x="646" y="1078" width="48" height="37"/><rect x="701" y="1020" width="48" height="95"/><rect x="756" y="1041" width="48" height="74"/>
<rect x="810" y="1102" width="48" height="13"/><rect x="865" y="1096" width="48" height="19"/><rect x="920" y="1102" width="48" height="13"/>
</g>
<rect x="1029" y="1098" width="46" height="17" fill="#c030c8"/>
<g>
<text transform="translate(180,1104) rotate(-25)" class="bl">11</text><text transform="translate(235,1084) rotate(-25)" class="bl">21</text><text transform="translate(289,1056) rotate(-25)" class="bl">32</text><text transform="translate(344,1043) rotate(-25)" class="bl">36</text>
<text transform="translate(399,1104) rotate(-25)" class="bl">11</text><text transform="translate(453,1084) rotate(-25)" class="bl">21</text><text transform="translate(508,1062) rotate(-25)" class="bl">29</text><text transform="translate(563,1100) rotate(-25)" class="bl">15</text>
<text transform="translate(617,1108) rotate(-25)" class="bl">2</text><text transform="translate(672,1102) rotate(-25)" class="bl">14</text><text transform="translate(727,1043) rotate(-25)" class="bl">36</text><text transform="translate(782,1065) rotate(-25)" class="bl">28</text>
<text transform="translate(836,1106) rotate(-25)" class="bl">5</text><text transform="translate(891,1106) rotate(-25)" class="bl">8</text><text transform="translate(946,1106) rotate(-25)" class="bl">5</text><text x="1000" y="1106" class="bl">-</text>
<text transform="translate(1053,1108) rotate(-25)" class="bl">7</text>
</g>

<!-- Utang bars -->
<g fill="#c00000">
<rect x="155" y="1141" width="48" height="55"/><rect x="209" y="1141" width="48" height="64"/><rect x="263" y="1141" width="48" height="73"/><rect x="318" y="1141" width="48" height="74"/>
<rect x="373" y="1141" width="48" height="81"/><rect x="427" y="1141" width="48" height="90"/><rect x="482" y="1141" width="48" height="95"/><rect x="537" y="1141" width="48" height="105"/>
<rect x="591" y="1141" width="48" height="90"/><rect x="646" y="1141" width="48" height="82"/><rect x="701" y="1141" width="48" height="73"/><rect x="756" y="1141" width="48" height="68"/>
<rect x="810" y="1141" width="48" height="62"/><rect x="865" y="1141" width="48" height="56"/><rect x="920" y="1141" width="48" height="55"/>
</g>
<g>
<text transform="translate(180,1183) rotate(-25)" class="bl">(389)</text><text transform="translate(235,1192) rotate(-25)" class="bl">(453)</text><text transform="translate(289,1200) rotate(-25)" class="bl">(517)</text><text transform="translate(344,1200) rotate(-25)" class="bl">(523)</text>
<text transform="translate(399,1207) rotate(-25)" class="bl">(572)</text><text transform="translate(453,1216) rotate(-25)" class="bl">(642)</text><text transform="translate(508,1222) rotate(-25)" class="bl">(676)</text><text transform="translate(563,1232) rotate(-25)" class="bl">(746)</text>
<text transform="translate(617,1216) rotate(-25)" class="bl">(637)</text><text transform="translate(672,1208) rotate(-25)" class="bl">(584)</text><text transform="translate(727,1200) rotate(-25)" class="bl">(521)</text><text transform="translate(782,1194) rotate(-25)" class="bl">(486)</text>
<text transform="translate(836,1187) rotate(-25)" class="bl">(437)</text><text transform="translate(891,1182) rotate(-25)" class="bl">(399)</text><text transform="translate(946,1181) rotate(-25)" class="bl">(392)</text><text x="1000" y="1158" class="bl">-</text><text x="1055" y="1158" class="bl">-</text>
</g>

<!-- Ekuitas bars -->
<g fill="#548235">
<rect x="155" y="1330" width="48" height="58"/><rect x="209" y="1329" width="48" height="59"/><rect x="263" y="1327" width="48" height="61"/><rect x="318" y="1326" width="48" height="62"/>
<rect x="373" y="1324" width="48" height="64"/><rect x="427" y="1324" width="48" height="64"/><rect x="482" y="1322" width="48" height="66"/><rect x="537" y="1325" width="48" height="63"/>
<rect x="591" y="1324" width="48" height="64"/><rect x="646" y="1322" width="48" height="66"/><rect x="701" y="1318" width="48" height="70"/><rect x="756" y="1320" width="48" height="68"/>
<rect x="810" y="1319" width="48" height="69"/><rect x="865" y="1319" width="48" height="69"/><rect x="920" y="1319" width="48" height="69"/>
</g>
<g>
<text transform="translate(180,1354) rotate(-25)" class="bl">331</text><text transform="translate(235,1353) rotate(-25)" class="bl">335</text><text transform="translate(289,1351) rotate(-25)" class="bl">347</text><text transform="translate(344,1350) rotate(-25)" class="bl">350</text>
<text transform="translate(399,1348) rotate(-25)" class="bl">362</text><text transform="translate(453,1348) rotate(-25)" class="bl">366</text><text transform="translate(508,1346) rotate(-25)" class="bl">375</text><text transform="translate(563,1349) rotate(-25)" class="bl">360</text>
<text transform="translate(617,1348) rotate(-25)" class="bl">363</text><text transform="translate(672,1346) rotate(-25)" class="bl">375</text><text transform="translate(727,1342) rotate(-25)" class="bl">397</text><text transform="translate(782,1344) rotate(-25)" class="bl">385</text>
<text transform="translate(836,1343) rotate(-25)" class="bl">390</text><text transform="translate(891,1343) rotate(-25)" class="bl">393</text><text transform="translate(946,1343) rotate(-25)" class="bl">390</text><text x="1000" y="1380" class="bl">-</text>
</g>

<!-- OWNERSHIP -->
<rect x="55" y="1402" width="1003" height="27" rx="13" fill="#23284a"/>
<text x="556" y="1422" class="m" style="font-size:19px;font-weight:bold;fill:#fff" textLength="226" lengthAdjust="spacingAndGlyphs">PERSENTASE KEPEMILIKAN SAHAM</text>
<rect x="8" y="1436" width="75" height="19" rx="3" fill="#548235"/><text x="46" y="1451" class="m" style="font-size:14px;fill:#fff">LOKAL</text>
<rect x="8" y="1459" width="75" height="19" rx="3" fill="#900000"/><text x="46" y="1474" class="m" style="font-size:14px;fill:#fff">ASING</text>
<rect x="86" y="1435" width="1008" height="127" fill="#121829" stroke="#d8d8d8" stroke-width="1.2"/>
<polyline points="120,1492 182,1492 244,1475 306,1474 368,1474 430,1474 492,1474 554,1475 616,1474 678,1474 740,1474 802,1474 864,1474 927,1473 989,1473 1051,1530" fill="none" stroke="#ed7d31" stroke-width="3"/>
<polyline points="120,1490 182,1490 244,1472 306,1472 368,1472 430,1471 492,1472 554,1472 616,1471 678,1471 740,1471 802,1471 864,1471 927,1471 989,1471 1051,1528" fill="none" stroke="#fff" stroke-width="2.5"/>
<line x1="120" y1="1530" x2="1051" y2="1530" stroke="#fff" stroke-width="2.5"/>
<g>
<g transform="translate(120,1490) rotate(-20)"><rect x="-21" y="-11" width="42" height="22" fill="#548235"/><text y="5" class="bl">67.3%</text></g>
<g transform="translate(182,1487) rotate(-20)"><rect x="-21" y="-11" width="42" height="22" fill="#548235"/><text y="5" class="bl">67.6%</text></g>
<g transform="translate(244,1472) rotate(-20)"><rect x="-21" y="-11" width="42" height="22" fill="#548235"/><text y="5" class="bl">97.5%</text></g>
<g transform="translate(306,1472) rotate(-20)"><rect x="-21" y="-11" width="42" height="22" fill="#548235"/><text y="5" class="bl">97.8%</text></g>
<g transform="translate(368,1472) rotate(-20)"><rect x="-21" y="-11" width="42" height="22" fill="#548235"/><text y="5" class="bl">97.9%</text></g>
<g transform="translate(430,1471) rotate(-20)"><rect x="-21" y="-11" width="42" height="22" fill="#548235"/><text y="5" class="bl">98.1%</text></g>
<g transform="translate(492,1472) rotate(-20)"><rect x="-21" y="-11" width="42" height="22" fill="#548235"/><text y="5" class="bl">97.8%</text></g>
<g transform="translate(554,1472) rotate(-20)"><rect x="-21" y="-11" width="42" height="22" fill="#548235"/><text y="5" class="bl">97.0%</text></g>
<g transform="translate(616,1471) rotate(-20)"><rect x="-21" y="-11" width="42" height="22" fill="#548235"/><text y="5" class="bl">98.7%</text></g>
<g transform="translate(678,1471) rotate(-20)"><rect x="-21" y="-11" width="42" height="22" fill="#548235"/><text y="5" class="bl">98.7%</text></g>
<g transform="translate(740,1471) rotate(-20)"><rect x="-21" y="-11" width="42" height="22" fill="#548235"/><text y="5" class="bl">98.7%</text></g>
<g transform="translate(802,1471) rotate(-20)"><rect x="-21" y="-11" width="42" height="22" fill="#548235"/><text y="5" class="bl">98.7%</text></g>
<g transform="translate(864,1471) rotate(-20)"><rect x="-21" y="-11" width="42" height="22" fill="#548235"/><text y="5" class="bl">98.7%</text></g>
<g transform="translate(927,1471) rotate(-20)"><rect x="-21" y="-11" width="42" height="22" fill="#548235"/><text y="5" class="bl">98.9%</text></g>
<g transform="translate(989,1471) rotate(-20)"><rect x="-21" y="-11" width="42" height="22" fill="#548235"/><text y="5" class="bl">98.9%</text></g>
</g>
<g fill="#900000">
<rect x="101" y="1520" width="38" height="20"/><rect x="163" y="1520" width="38" height="20"/><rect x="225" y="1520" width="38" height="20"/><rect x="287" y="1520" width="38" height="20"/><rect x="349" y="1520" width="38" height="20"/><rect x="411" y="1520" width="38" height="20"/><rect x="473" y="1520" width="38" height="20"/><rect x="535" y="1520" width="38" height="20"/><rect x="597" y="1520" width="38" height="20"/><rect x="659" y="1520" width="38" height="20"/><rect x="721" y="1520" width="38" height="20"/><rect x="783" y="1520" width="38" height="20"/><rect x="845" y="1520" width="38" height="20"/><rect x="908" y="1520" width="38" height="20"/><rect x="970" y="1520" width="38" height="20"/><rect x="1032" y="1520" width="38" height="20"/>
</g>
<g>
<text x="120" y="1535" class="bl">2.7%</text><text x="182" y="1535" class="bl">2.3%</text><text x="244" y="1535" class="bl">2.5%</text><text x="306" y="1535" class="bl">2.2%</text><text x="368" y="1535" class="bl">2.1%</text><text x="430" y="1535" class="bl">1.9%</text><text x="492" y="1535" class="bl">2.2%</text><text x="554" y="1535" class="bl">3.0%</text><text x="616" y="1535" class="bl">1.3%</text><text x="678" y="1535" class="bl">1.3%</text><text x="740" y="1535" class="bl">1.3%</text><text x="802" y="1535" class="bl">1.3%</text><text x="864" y="1535" class="bl">1.3%</text><text x="927" y="1535" class="bl">1.1%</text><text x="989" y="1535" class="bl">1.1%</text><text x="1051" y="1535" class="bl">0.0%</text>
</g>
<g>
<text x="120" y="1557" class="m" style="fill:#ffff00;font-size:14px">Q1 '22</text><text x="182" y="1557" class="m" style="fill:#ffff00;font-size:14px">Q2 '22</text><text x="244" y="1557" class="m" style="fill:#ffff00;font-size:14px">Q3 '22</text><text x="306" y="1557" class="m" style="fill:#ffff00;font-size:14px">Q4 '22</text><text x="368" y="1557" class="m" style="fill:#ffff00;font-size:14px">Q1 '23</text><text x="430" y="1557" class="m" style="fill:#ffff00;font-size:14px">Q2 '23</text><text x="492" y="1557" class="m" style="fill:#ffff00;font-size:14px">Q3 '23</text><text x="554" y="1557" class="m" style="fill:#ffff00;font-size:14px">Q4 '23</text><text x="616" y="1557" class="m" style="fill:#ffff00;font-size:14px">Q1 '24</text><text x="678" y="1557" class="m" style="fill:#ffff00;font-size:14px">Q2 '24</text><text x="740" y="1557" class="m" style="fill:#ffff00;font-size:14px">Q3 '24</text><text x="802" y="1557" class="m" style="fill:#ffff00;font-size:14px">Q4 '24</text><text x="864" y="1557" class="m" style="fill:#ffff00;font-size:14px">Q1 '25</text><text x="927" y="1557" class="m" style="fill:#ffff00;font-size:14px">Q2 '25</text><text x="989" y="1557" class="m" style="fill:#ffff00;font-size:14px">Q3 '25</text><text x="1051" y="1557" class="m" style="fill:#ffff00;font-size:14px">Q4 '25</text>
</g>
</svg>
</body></html>
